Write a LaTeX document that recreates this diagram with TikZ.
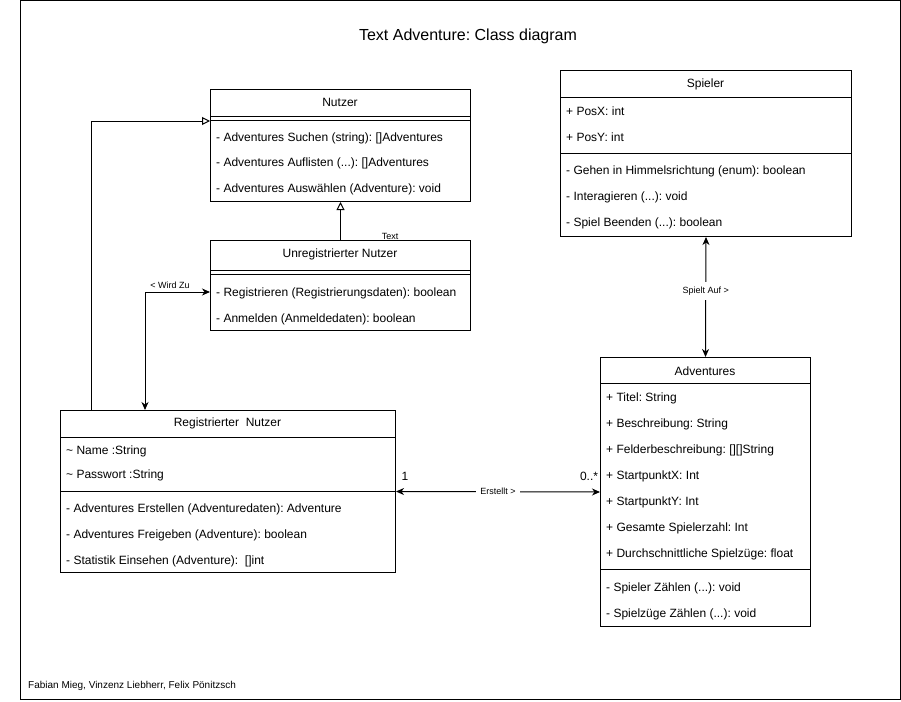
\documentclass[tikz,border=0pt]{standalone}
\usepackage{fontspec}
\setmainfont{Liberation Sans}
\usetikzlibrary{arrows.meta}
\frenchspacing

\tikzset{
	classbox/.style={draw, line width=1pt, rectangle, inner sep=0pt, anchor=north west},
	row/.style={anchor=west, inner sep=0pt, yshift=-1pt, font=\fontsize{12}{14}\selectfont},
	head/.style={inner sep=0pt, font=\fontsize{12}{14}\selectfont},
	small/.style={inner sep=1pt, font=\fontsize{9}{11}\selectfont},
	gen/.style={line width=1pt, -{Triangle[open, length=8pt, width=8pt]}},
	assoc/.style={line width=1pt, {Stealth[length=8pt, width=7pt, inset=2.5pt]}-{Stealth[length=8pt, width=7pt, inset=2.5pt]}}
}

\begin{document}
\begin{tikzpicture}[x=1pt, y=-1pt]
			%%%%% START %%%%%
			\useasboundingbox (0, 0) rectangle (901, 701);
			\draw[line width=1pt] (20, 1) rectangle (900, 699);
			
			\node[font=\fontsize{16}{19}\selectfont] (title) at (468, 36) {Text Adventure: Class diagram};
			\node[anchor=west, inner sep=0pt, font=\fontsize{10}{12}\selectfont] (footer) at (28, 686) {Fabian Mieg, Vinzenz Liebherr, Felix Pönitzsch};
			
			%% Nutzer
			\node[classbox, minimum width=260pt, minimum height=112pt] (nutzer) at (210, 89) {};
			\node[head] (nutzerT) at (340, 102) {Nutzer};
			\draw[line width=1pt] (210, 116) -- (470, 116);
			\draw[line width=1pt] (210, 120) -- (470, 120);
			\node[row] (nutzerA) at (216, 137) {- Adventures Suchen (string): []Adventures};
			\node[row] (nutzerB) at (216, 162) {- Adventures Auflisten (...): []Adventures};
			\node[row] (nutzerC) at (216, 188) {- Adventures Auswählen (Adventure): void};
			
			%% Unregistrierter Nutzer
			\node[classbox, minimum width=260pt, minimum height=90pt] (unreg) at (210, 240) {};
			\node[head] (unregT) at (340, 254) {Unregistrierter Nutzer};
			\draw[line width=1pt] (210, 270.5) -- (470, 270.5);
			\draw[line width=1pt] (210, 274) -- (470, 274);
			\node[row] (unregA) at (216, 292) {- Registrieren (Registrierungsdaten): boolean};
			\node[row] (unregB) at (216, 318) {- Anmelden (Anmeldedaten): boolean};
			
			%% Registrierter Nutzer
			\node[classbox, minimum width=335pt, minimum height=162pt] (reg) at (60, 410) {};
			\node[head] (regT) at (227.5, 423) {Registrierter~ Nutzer};
			\draw[line width=1pt] (60, 437) -- (395, 437);
			\node[row] (regA) at (66, 450) {\textasciitilde{} Name :String};
			\node[row] (regB) at (66, 474) {\textasciitilde{} Passwort :String};
			\draw[line width=1pt] (60, 491) -- (395, 491);
			\node[row] (regC) at (66, 508) {- Adventures Erstellen (Adventuredaten): Adventure};
			\node[row] (regD) at (66, 534) {- Adventures Freigeben (Adventure): boolean};
			\node[row] (regE) at (66, 560) {- Statistik Einsehen (Adventure):~ []int};
			
			%% Spieler
			\node[classbox, minimum width=291pt, minimum height=166pt] (spieler) at (560, 70) {};
			\node[head] (spielerT) at (705.5, 84) {Spieler};
			\draw[line width=1pt] (560, 97) -- (851, 97);
			\node[row] (spielerA) at (566, 110) {+ PosX: int};
			\node[row] (spielerB) at (566, 136) {+ PosY: int};
			\draw[line width=1pt] (560, 153) -- (851, 153);
			\node[row] (spielerC) at (566, 170) {- Gehen in Himmelsrichtung (enum): boolean};
			\node[row] (spielerD) at (566, 196) {- Interagieren (...): void};
			\node[row] (spielerE) at (566, 222) {- Spiel Beenden (...): boolean};
			
			%% Adventures
			\node[classbox, minimum width=210pt, minimum height=269pt] (adv) at (600, 357) {};
			\node[head] (advT) at (705, 371) {Adventures};
			\draw[line width=1pt] (600, 383) -- (810, 383);
			\node[row] (advA) at (606, 397) {+ Titel: String};
			\node[row] (advB) at (606, 423) {+ Beschreibung: String};
			\node[row] (advC) at (606, 449) {+ Felderbeschreibung: [][]String};
			\node[row] (advD) at (606, 475) {+ StartpunktX: Int};
			\node[row] (advE) at (606, 501) {+ StartpunktY: Int};
			\node[row] (advF) at (606, 527) {+ Gesamte Spielerzahl: Int};
			\node[row] (advG) at (606, 553) {+ Durchschnittliche Spielzüge: float};
			\draw[line width=1pt] (600, 569) -- (810, 569);
			\node[row] (advH) at (606, 587) {- Spieler Zählen (...): void};
			\node[row] (advI) at (606, 613) {- Spielzüge Zählen (...): void};
			
			%% connectors
			\draw[gen] (unreg.north) -- (nutzer.south);
			\node[small] (textlbl) at (390, 236) {Text};
			
			\draw[gen] ([xshift=31pt]reg.north west) |- ([yshift=-32pt]nutzer.north west);
			
			\draw[assoc] ([yshift=-52pt]unreg.north west) -| ([xshift=85pt]reg.north west);
			\node[small] (wirdzu) at (170, 285) {< Wird Zu};
			
			\draw[assoc] (reg.east) -- (adv.west) node[small, midway, fill=white, inner sep=4pt] (erstellt) {Erstellt >};
			\node[row, anchor=center] (one) at (405, 475) {1};
			\node[row, anchor=center] (many) at (589, 475) {0..*};
			
			\draw[assoc] (spieler.south) -- (adv.north) node[small, pos=0.45, fill=white, inner sep=5pt] (spieltauf) {Spielt Auf >};
			%%%%% END %%%%%
\end{tikzpicture}
\end{document}
